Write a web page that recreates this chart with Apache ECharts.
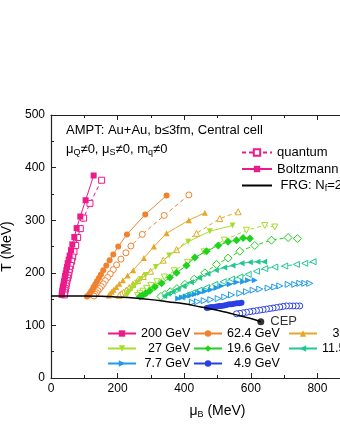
<!DOCTYPE html>
<html>
<head>
<meta charset="utf-8">
<script src="https://cdn.jsdelivr.net/npm/echarts@6/dist/echarts.min.js"></script>
<style>
  html, body { margin: 0; padding: 0; background: #fff; }
  #chart { width: 340px; height: 440px; }
</style>
</head>
<body>
<div id="chart"></div>
<script>
const energies = ["200 GeV", "62.4 GeV", "39 GeV", "27 GeV", "19.6 GeV", "11.5 GeV", "7.7 GeV", "4.9 GeV"];

// [muB (MeV), T (MeV)] trajectories, Boltzmann (b) and quantum (q)
const b200 = [[128,385],[104,338],[88,307],[77,285],[70,268],[64,254],[60,243],[56,233],[53,225],[50,218],[48,211],[46,205],[44,199],[42,194],[41,189],[39,184],[38,179],[36,174],[35,170],[34,166],[33,162],[32,158]];
const q200 = [[152,376],[117,332],[98,304],[88,284],[80,267],[74,252],[69,240],[65,230],[62,222],[59,214],[56,207],[54,201],[52,195],[50,190],[48,185],[46,180],[45,175],[43,170],[42,166],[41,162],[40,158]];
const b62 = [[347,347],[283,311],[228,273],[202,250],[187,235],[176,224],[166,214],[157,205],[150,197],[144,190],[138,184],[133,178],[128,173],[124,168],[120,164],[116,160],[112,157],[108,155]];
const q62 = [[414,348],[340,309],[274,273],[240,251],[225,238],[210,226],[197,215],[187,206],[178,198],[170,191],[163,185],[157,179],[151,174],[146,170],[141,166],[137,162],[133,159],[129,156]];
const b39 = [[462,314],[414,300],[347,275],[309,250],[279,228],[247,205],[230,195],[216,186],[205,179],[196,173],[188,168],[182,164],[177,160],[173,157]];
const q39 = [[562,316],[507,303],[437,275],[377,244],[337,224],[299,203],[277,193],[260,185],[246,178],[235,172],[226,167],[218,163],[211,160],[205,157]];
const b27 = [[545,290],[477,279],[412,259],[355,233],[315,211],[285,196],[270,188],[258,181],[249,175],[242,170],[236,165],[231,161],[227,157]];
const q27 = [[672,287],[642,290],[587,281],[520,262],[460,240],[410,220],[370,204],[340,192],[318,183],[300,176],[287,170],[276,165],[267,161],[260,157]];
const b19 = [[597,265],[577,266],[557,262],[532,259],[502,252],[467,241],[432,229],[407,214],[377,200],[357,191],[332,180],[312,173],[297,166],[285,161],[275,157],[267,155]];
const q19 = [[740,265],[712,267],[662,262],[612,252],[567,241],[532,228],[497,216],[462,200],[430,188],[402,178],[378,170],[358,164],[342,159],[330,155]];
const b11 = [[640,221],[620,221],[597,220],[572,218],[545,214],[520,210],[495,205],[470,198],[445,190],[420,182],[398,175],[380,169],[365,164],[352,160],[340,156]];
const q11 = [[787,221],[762,218],[737,216],[702,213],[672,211],[642,208],[617,203],[592,197],[567,192],[542,188],[517,183],[492,178],[467,172],[445,167],[425,162],[408,158],[393,154]];
const b7 = [[612,186],[592,186],[577,183],[557,182],[537,178],[512,175],[497,171],[480,168],[463,165],[447,162],[432,159],[418,157],[405,155],[393,153],[382,151]];
const q7 = [[777,180],[762,180],[747,180],[732,178],[712,178],[687,175],[672,173],[652,171],[627,169],[607,167],[587,164],[567,161],[542,158],[522,154],[502,151],[480,149],[460,147],[440,145],[425,144]];
const b4 = [[572,143],[565,142],[558,142],[550,141],[542,140],[535,140],[527,139],[520,138],[512,137],[505,137],[497,136],[490,135],[482,135],[475,134],[468,133]];
const q4 = [[747,137],[737,137],[727,137],[717,137],[707,137],[697,136],[687,135],[677,134],[667,133],[657,132],[647,131],[637,130],[627,129],[617,128],[607,127],[597,126],[587,125],[577,124],[567,123],[557,122]];

const frg = [[0,156],[50,156],[100,156],[150,155.5],[200,154],[250,152],[300,149],[350,145],[400,141],[450,135],[500,129],[550,121],[600,113],[630,107]];
const cep = [[630,107]];

const boltz = [b200, b62, b39, b27, b19, b11, b7, b4];
const quant = [q200, q62, q39, q27, q19, q11, q7, q4];

// styles per energy
const colors = ["#ec1a8a", "#f0822e", "#e8a628", "#a6de2e", "#1ed21e", "#1ec88e", "#1e9ae8", "#2a3ee6"];
const symbols = ["rect", "circle", "triangle", "triangle", "diamond", "triangle", "triangle", "circle"];
const rotates = [0, 0, 0, 180, 0, 90, -90, 0];

const font = "Liberation Sans, Arial, sans-serif";
const subStyle = { fontSize: 9, verticalAlign: "bottom", padding: [6, 0, 0, 0], fontFamily: font };
let series = [];

energies.forEach((name, i) => {
  series.push({
    name: name,
    type: "line",
    data: boltz[i],
    symbol: symbols[i],
    symbolRotate: rotates[i],
    symbolSize: symbols[i] === "diamond" ? 8 : 6,
    lineStyle: { color: colors[i], width: 1 },
    itemStyle: { color: colors[i], borderWidth: 0 },
    z: 3,
  });
  series.push({
    name: name + " quantum",
    type: "line",
    data: quant[i],
    symbol: symbols[i],
    symbolRotate: rotates[i],
    symbolSize: symbols[i] === "diamond" ? 8 : 6,
    lineStyle: { color: colors[i], width: 1, type: [4, 3] },
    itemStyle: { color: "#fff", borderColor: colors[i], borderWidth: 1 },
    z: 2,
  });
});

// style legend entries
series.push({
  name: "quantum",
  type: "line",
  data: [],
  symbol: "rect",
  lineStyle: { color: colors[0], width: 1, type: [4, 3] },
  itemStyle: { color: "#fff", borderColor: colors[0], borderWidth: 1 },
});
series.push({
  name: "Boltzmann",
  type: "line",
  data: [],
  symbol: "rect",
  lineStyle: { color: colors[0], width: 1.5 },
  itemStyle: { color: colors[0] },
});
series.push({
  name: "FRG",
  type: "line",
  data: frg,
  showSymbol: false,
  symbol: "none",
  smooth: true,
  lineStyle: { color: "#000", width: 1.5 },
  itemStyle: { color: "#000" },
  z: 4,
});
series.push({
  name: "CEP",
  type: "scatter",
  data: cep,
  symbol: "circle",
  symbolSize: 7,
  itemStyle: { color: "#000" },
  label: {
    show: true,
    position: "right",
    distance: 6,
    formatter: "CEP",
    color: "#000",
    fontSize: 13,
    fontFamily: font,
  },
  z: 5,
});

const legendText = { fontSize: 12.5, fontFamily: font, color: "#000" };
const bottomLegend = (left, names, pads) => ({
  left: left,
  top: 327,
  orient: "vertical",
  itemWidth: 28,
  itemHeight: 8,
  itemGap: 2,
  padding: 0,
  data: names,
  formatter: (n) => pads[names.indexOf(n)] + n,
  textStyle: legendText,
});

const option = {
  animation: false,
  backgroundColor: "#fff",
  grid: { left: 51, top: 115, right: -44, bottom: 62, containLabel: false, outerBoundsMode: "none" },
  xAxis: [
    {
      type: "value",
      min: 0,
      max: 1000,
      interval: 200,
      name: "μ{sub|B} (MeV)",
      nameLocation: "middle",
      nameGap: 26,
      nameTextStyle: { fontSize: 14, fontFamily: font, color: "#000", rich: { sub: subStyle } },
      axisLine: { lineStyle: { color: "#222", width: 1.2 } },
      axisTick: { inside: true, length: 5, lineStyle: { color: "#222" } },
      minorTick: { show: true, splitNumber: 2, length: 3, lineStyle: { color: "#222" } },
      axisLabel: { fontSize: 12, fontFamily: font, color: "#000", margin: 5 },
      splitLine: { show: false },
    },
    {
      type: "value",
      position: "top",
      min: 0,
      max: 1000,
      interval: 200,
      axisLine: { lineStyle: { color: "#222", width: 1.2 } },
      axisTick: { inside: true, length: 5, lineStyle: { color: "#222" } },
      minorTick: { show: true, splitNumber: 2, length: 3, lineStyle: { color: "#222" } },
      axisLabel: { show: false },
      splitLine: { show: false },
    },
  ],
  yAxis: {
    type: "value",
    min: 0,
    max: 500,
    interval: 100,
    name: "T (MeV)",
    nameLocation: "middle",
    nameGap: 35,
    nameTextStyle: { fontSize: 14, fontFamily: font, color: "#000" },
    axisLine: { lineStyle: { color: "#222", width: 1.2 } },
    axisTick: { inside: true, length: 5, lineStyle: { color: "#222" } },
    minorTick: { show: true, splitNumber: 2, length: 3, lineStyle: { color: "#222" } },
    axisLabel: { fontSize: 12, fontFamily: font, color: "#000", margin: 6 },
    splitLine: { show: false },
  },
  legend: [
    {
      left: 241,
      top: 146,
      orient: "vertical",
      itemWidth: 30,
      itemHeight: 8,
      itemGap: 3.5,
      padding: 0,
      data: [
        "quantum",
        "Boltzmann",
        { name: "FRG", itemStyle: { color: "rgba(0,0,0,0)", borderWidth: 0 } },
      ],
      formatter: (n) => (n === "FRG" ? " FRG: N{sub|f}=2+1" : n),
      textStyle: { fontSize: 13, fontFamily: font, color: "#000", rich: { sub: subStyle } },
    },
    bottomLegend(107, ["200 GeV", "27 GeV", "7.7 GeV"], ["", "  ", " "]),
    bottomLegend(193, ["62.4 GeV", "19.6 GeV", "4.9 GeV"], ["", "", "  "]),
    bottomLegend(288, ["39 GeV", "11.5 GeV"], ["   ", ""]),
  ],
  graphic: [
    {
      type: "text",
      left: 66,
      top: 124,
      style: { text: "AMPT: Au+Au, b≤3fm, Central cell", fontSize: 13, fontFamily: font, fill: "#000" },
    },
    {
      type: "text",
      left: 66,
      top: 143,
      style: {
        text: "μ{sub|Q}≠0, μ{sub|S}≠0, m{sub|q}≠0",
        fontSize: 13,
        fontFamily: font,
        fill: "#000",
        rich: { sub: subStyle },
      },
    },
  ],
  series,
};

const E = echarts.init(document.getElementById("chart"), null, { renderer: "canvas" });
E.setOption(option);
</script>
</body>
</html>
